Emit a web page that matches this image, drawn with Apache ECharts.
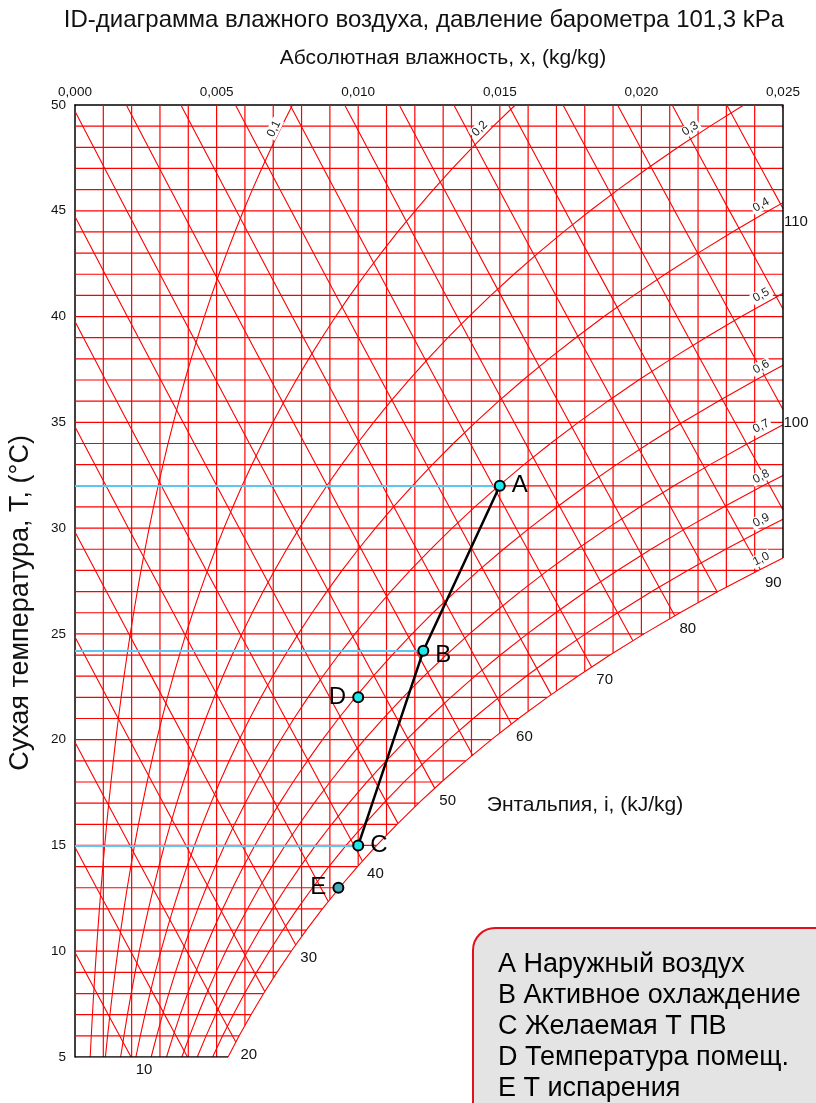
<!DOCTYPE html>
<html>
<head>
<meta charset="utf-8">
<script src="https://cdn.jsdelivr.net/npm/echarts@6/dist/echarts.min.js"></script>
<style>
html,body{margin:0;padding:0;background:#fff}
#chart{width:816px;height:1103px}
</style>
</head>
<body>
<div id="chart"></div>
<script>
// давление барометра, кПа
var P = 101.3;
// давление насыщения водяного пара, кПа, для 0..50 °C
var psatTable = [0.6113,0.6571,0.7060,0.7581,0.8135,0.8726,0.9354,1.0021,1.0730,1.1482,
  1.2282,1.3129,1.4028,1.4981,1.5989,1.7057,1.8188,1.9383,2.0647,2.1982,
  2.3392,2.4881,2.6452,2.8109,2.9856,3.1697,3.3637,3.5679,3.7828,4.0089,
  4.2467,4.4966,4.7592,5.0351,5.3247,5.6286,5.9475,6.2818,6.6324,6.9997,
  7.3844,7.7873,8.2090,8.6503,9.1118,9.5944,10.0988,10.6259,11.1764,11.7512,12.3513];

var rhLevels = [0.1,0.2,0.3,0.4,0.5,0.6,0.7,0.8,0.9,1.0];
var rhLabels = ['0,1','0,2','0,3','0,4','0,5','0,6','0,7','0,8','0,9','1,0'];
var enthalpyLines = [10,15,20,25,30,35,40,45,50,55,60,65,70,75,80,85,90,95,100,105,110,115];
var enthalpyLabels = [10,20,30,40,50,60,70,80,90,100,110];

// состояния воздуха
var pointNames = ['A','B','C','D','E'];
var pointX = [0.0150,0.0123,0.0100,0.0100,0.0093];
var pointT = [32,24.2,15,22,13];
var legendText = ['A Наружный воздух','B Активное охлаждение','C Желаемая Т ПВ','D Температура помещ.','E Т испарения'];

var FONT = '"Liberation Sans", Arial, sans-serif';

function psat(t){
  var i = Math.floor(t);
  if (i < 0) i = 0;
  if (i > 49) i = 49;
  var f = t - i;
  return Math.exp(Math.log(psatTable[i])*(1-f) + Math.log(psatTable[i+1])*f);
}
function xAt(t, phi){ var pv = phi*psat(t); return 0.622*pv/(P-pv); }
function tAtH(h, x){ return (h - 2501*x)/(1.006 + 1.86*x); }
function tForX(x, phi){
  var lo = 0, hi = 50;
  for (var k=0;k<50;k++){ var m=(lo+hi)/2; if (xAt(m,phi) < x) lo=m; else hi=m; }
  return (lo+hi)/2;
}

// сетка
var gridLines = [];
for (var k=1;k<25;k++){
  var gx = k*0.001;
  gridLines.push({coords:[[gx, Math.max(5, tForX(gx,1))],[gx,50]]});
}
for (var t=6;t<50;t++){
  gridLines.push({coords:[[0,t],[Math.min(0.025, xAt(t,1)),t]]});
}

// линии энтальпии
var hLines = [], hEnds = {};
enthalpyLines.forEach(function(h){
  var x0, t0;
  if (h/1.006 <= 50){ x0 = 0; t0 = h/1.006; }
  else { x0 = (h - 50.3)/(2501 + 93); t0 = 50; }
  var xEnd = 0.025;
  function f(x){ return tAtH(h,x) - tForX(x,1); }
  if (f(0.025) < 0){
    var lo = x0, hi = 0.025;
    for (var k=0;k<50;k++){ var m=(lo+hi)/2; if (f(m) > 0) lo=m; else hi=m; }
    xEnd = (lo+hi)/2;
  }
  var x5 = (h - 5.03)/2510.3;
  if (x5 < xEnd) xEnd = x5;
  var pts = [];
  for (var i=0;i<=8;i++){
    var xx = x0 + (xEnd-x0)*i/8;
    pts.push([xx, i===0 ? t0 : tAtH(h,xx)]);
  }
  hLines.push({coords:pts});
  hEnds[h] = pts[pts.length-1];
});

// кривые относительной влажности
var rhCurves = [];
rhLevels.forEach(function(phi){
  var pts = [];
  for (var t=5;t<=50;t++){
    var xx = 0.622*phi*psatTable[t]/(P - phi*psatTable[t]);
    if (xx > 0.025){ pts.push([0.025, tForX(0.025,phi)]); break; }
    pts.push([xx,t]);
  }
  rhCurves.push({coords:pts});
});

var satTop = tForX(0.025,1);
var borders = [
  {coords:[[0.025,50],[0.025,satTop]]},
  {coords:[[0,5],[xAt(5,1),5]]}
];

var procData = [0,1,2].map(function(i){ return [pointX[i],pointT[i]]; });
var blueLines = [0,1,2].map(function(i){ return {coords:[[0,pointT[i]],[pointX[i],pointT[i]]]}; });

var chart = echarts.init(document.getElementById('chart'));
var option = {
  animation:false,
  textStyle:{fontFamily:FONT},
  grid:{left:75,right:33,top:105,bottom:46},
  xAxis:{
    type:'value', position:'top', min:0, max:0.025, interval:0.005,
    axisLine:{lineStyle:{color:'#000',width:1.5}},
    axisTick:{show:false}, splitLine:{show:false},
    axisLabel:{color:'#111',fontSize:13.5,margin:6,
      formatter:function(v){ return v.toFixed(3).replace('.',','); }}
  },
  yAxis:{
    type:'value', min:5, max:50, interval:5,
    axisLine:{show:true,lineStyle:{color:'#000',width:1.5}},
    axisTick:{show:false}, splitLine:{show:false},
    axisLabel:{color:'#111',fontSize:13.5,margin:9}
  },
  series:[
    {type:'lines',coordinateSystem:'cartesian2d',polyline:true,silent:true,z:1,
      lineStyle:{color:'#ff0000',width:1.2,opacity:1},data:gridLines},
    {type:'lines',coordinateSystem:'cartesian2d',polyline:true,silent:true,z:2,
      lineStyle:{color:'#ff0000',width:1.1,opacity:1},data:hLines},
    {type:'lines',coordinateSystem:'cartesian2d',polyline:true,silent:true,z:2,
      lineStyle:{color:'#ff0000',width:1.1,opacity:1},data:rhCurves},
    {type:'lines',coordinateSystem:'cartesian2d',polyline:true,silent:true,z:3,
      lineStyle:{color:'#000',width:1.5,opacity:1},data:borders},
    {type:'lines',coordinateSystem:'cartesian2d',silent:true,z:5,
      lineStyle:{color:'#5ec4f0',width:2.2,opacity:1},data:blueLines},
    {type:'line',data:procData,symbol:'none',z:6,
      lineStyle:{color:'#000',width:2.5}},
    {type:'scatter',z:7,symbolSize:10,
      data:pointNames.map(function(n,i){
        return {value:[pointX[i],pointT[i]],name:n,
          itemStyle:{color: n==='E' ? '#4aa9b6' : '#1fe8ea'},
          label:{position: (n==='D'||n==='E') ? 'left' : 'right',
            offset: n==='B' ? [0,5] : [0,0]}};
      }),
      itemStyle:{borderColor:'#000',borderWidth:2,opacity:1},
      label:{show:true,formatter:'{b}',fontSize:24,color:'#000',opacity:1,distance:6}}
  ]
};
chart.setOption(option);

// подписи
var g = [];
g.push({type:'text',x:424,y:20,z:100,style:{text:'ID-диаграмма влажного воздуха, давление барометра 101,3 kPa',
  fill:'#111',font:'24px '+FONT,align:'center',verticalAlign:'middle'}});
g.push({type:'text',x:443,y:58,z:100,style:{text:'Абсолютная влажность, x, (kg/kg)',
  fill:'#111',font:'21px '+FONT,align:'center',verticalAlign:'middle'}});
g.push({type:'text',x:21,y:603,rotation:Math.PI/2,z:100,style:{text:'Сухая температура, Т, (°С)',
  fill:'#111',font:'27px '+FONT,align:'center',verticalAlign:'middle'}});
g.push({type:'text',x:585,y:805,z:100,style:{text:'Энтальпия, i, (kJ/kg)',
  fill:'#111',font:'21px '+FONT,align:'center',verticalAlign:'middle'}});

enthalpyLabels.forEach(function(h){
  var p = chart.convertToPixel({gridIndex:0}, hEnds[h]);
  g.push({type:'text',x:p[0]+13,y:p[1]+13,z:100,style:{text:String(h),
    fill:'#111',font:'15px '+FONT,align:'center',verticalAlign:'middle'}});
});

rhLevels.forEach(function(phi,i){
  var x, t;
  if (phi >= 0.4){ x = 0.0243; t = tForX(x,phi); }
  else { t = 48.45; x = xAt(t,phi); }
  var p1 = chart.convertToPixel({gridIndex:0},[x,t]);
  var p2 = chart.convertToPixel({gridIndex:0},[xAt(t+0.5,phi),t+0.5]);
  var ang = Math.atan2(p1[1]-p2[1], p2[0]-p1[0]);
  g.push({type:'text',x:p1[0]-2,y:p1[1]-9,rotation:ang,z:100,style:{text:rhLabels[i],
    fill:'#222',font:'12px '+FONT,align:'center',verticalAlign:'middle',
    backgroundColor:'#fff',padding:[0,2]}});
});

g.push({type:'rect',z:100,shape:{x:473,y:928,width:380,height:220,r:22},
  style:{fill:'#e4e4e4',stroke:'#e3101b',lineWidth:2}});
legendText.forEach(function(s,i){
  g.push({type:'text',x:498,y:965+31*i,z:101,style:{text:s,fill:'#000',
    font:'27px '+FONT,align:'left',verticalAlign:'middle'}});
});

chart.setOption({graphic:g});
</script>
</body>
</html>
